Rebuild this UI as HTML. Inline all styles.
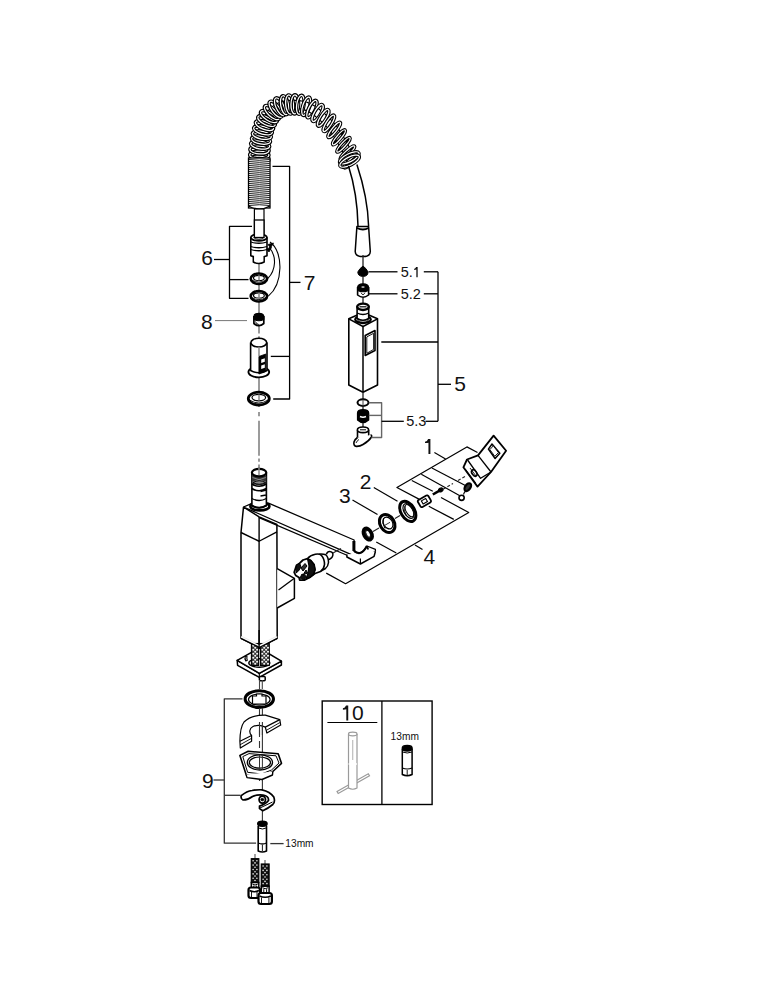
<!DOCTYPE html>
<html><head><meta charset="utf-8"><style>
html,body{margin:0;padding:0;background:#fff;width:769px;height:1000px;overflow:hidden}
svg{display:block}
text{font-family:"Liberation Sans",sans-serif}
</style></head><body>
<svg width="769" height="1000" viewBox="0 0 769 1000">
<rect width="769" height="1000" fill="#fff"/>
<path d="M263.25,160.09 L263.26,159.44 L263.27,158.65 L263.27,157.72 L263.28,156.70 L263.29,155.60 L263.31,154.47 L263.34,153.34 L263.38,152.25 L263.42,151.24 L263.49,150.34 L263.56,149.49 L263.65,148.67 L263.75,147.87 L263.87,147.08 L263.99,146.28 L264.12,145.47 L264.27,144.63 L264.42,143.77 L264.58,142.87 L264.74,141.93 L264.91,140.95 L265.08,139.94 L265.26,138.91 L265.44,137.88 L265.63,136.84 L265.82,135.81 L266.02,134.81 L266.23,133.84 L266.44,132.91 L266.66,132.03 L266.90,131.15 L267.14,130.31 L267.37,129.51 L267.61,128.75 L267.85,128.01 L268.11,127.28 L268.38,126.55 L268.69,125.81 L269.02,125.05 L269.40,124.24 L269.84,123.34 L270.30,122.41 L270.77,121.47 L271.27,120.53 L271.78,119.61 L272.30,118.72 L272.83,117.86 L273.38,117.07 L273.92,116.34 L274.47,115.68 L275.09,115.02 L275.74,114.36 L276.43,113.73 L277.14,113.12 L277.87,112.54 L278.62,112.00 L279.38,111.50 L280.14,111.03 L280.89,110.62 L281.63,110.25 L282.34,109.95 L283.09,109.69 L283.89,109.45 L284.73,109.25 L285.60,109.07 L286.51,108.92 L287.45,108.79 L288.40,108.68 L289.37,108.58 L290.34,108.49 L291.23,108.42 L292.15,108.37 L293.09,108.35 L294.03,108.36 L294.97,108.38 L295.91,108.42 L296.83,108.48 L297.73,108.56 L298.60,108.65 L299.44,108.76 L300.24,108.88 L300.99,109.01 L301.71,109.14 L302.39,109.30 L303.04,109.46 L303.69,109.65 L304.34,109.85 L304.99,110.09 L305.66,110.35 L306.36,110.65 L307.06,110.97 L307.77,111.33 L308.50,111.71 L309.23,112.13 L309.98,112.57 L310.73,113.05 L311.50,113.55 L312.28,114.08 L313.07,114.63 L313.87,115.21 L314.67,115.81 L315.49,116.46 L316.33,117.14 L317.19,117.85 L318.05,118.58 L318.91,119.34 L319.77,120.10 L320.61,120.87 L321.43,121.63 L322.24,122.39 L323.03,123.15 L323.80,123.90 L324.55,124.64 L325.29,125.38 L326.00,126.13 L326.70,126.87 L327.39,127.63 L328.05,128.39 L328.71,129.17 L329.34,129.96 L329.96,130.76 L330.55,131.58 L331.14,132.42 L331.72,133.29 L332.30,134.18 L332.88,135.10 L333.47,136.05 L334.08,137.04 L334.70,138.06 L335.35,139.11 L336.01,140.17 L336.68,141.26 L337.36,142.36 L338.04,143.47 L338.72,144.60 L339.39,145.73 L340.06,146.88 L340.71,148.02 L341.33,149.17 L341.94,150.32 L342.54,151.52 L343.18,152.86 L343.84,154.28 L344.49,155.74 L345.13,157.19 L345.74,158.59 L346.30,159.90 L346.81,161.08 L347.25,162.09" stroke="#000" stroke-width="1.2" fill="none" stroke-linejoin="round" />
<path d="M255.25,159.91 L255.26,159.36 L255.27,158.59 L255.27,157.67 L255.28,156.62 L255.29,155.49 L255.31,154.31 L255.34,153.10 L255.38,151.91 L255.44,150.75 L255.51,149.66 L255.61,148.67 L255.71,147.71 L255.83,146.79 L255.96,145.89 L256.09,145.00 L256.24,144.13 L256.39,143.26 L256.54,142.38 L256.70,141.49 L256.86,140.57 L257.02,139.61 L257.20,138.60 L257.38,137.55 L257.56,136.47 L257.76,135.38 L257.97,134.28 L258.19,133.18 L258.42,132.08 L258.67,131.01 L258.94,129.97 L259.19,129.02 L259.45,128.10 L259.71,127.19 L259.99,126.29 L260.29,125.40 L260.61,124.49 L260.96,123.58 L261.34,122.66 L261.75,121.71 L262.20,120.76 L262.66,119.82 L263.15,118.82 L263.67,117.78 L264.24,116.71 L264.84,115.63 L265.48,114.53 L266.16,113.44 L266.90,112.37 L267.69,111.32 L268.53,110.32 L269.37,109.42 L270.25,108.54 L271.16,107.70 L272.11,106.90 L273.09,106.13 L274.10,105.40 L275.13,104.72 L276.18,104.08 L277.26,103.49 L278.37,102.95 L279.54,102.46 L280.72,102.05 L281.89,101.71 L283.06,101.42 L284.21,101.19 L285.34,101.00 L286.46,100.85 L287.55,100.72 L288.61,100.61 L289.66,100.51 L290.78,100.43 L291.91,100.38 L293.04,100.35 L294.17,100.36 L295.28,100.38 L296.38,100.44 L297.47,100.51 L298.53,100.60 L299.56,100.71 L300.56,100.84 L301.52,100.98 L302.45,101.14 L303.37,101.32 L304.28,101.52 L305.17,101.75 L306.06,102.01 L306.95,102.29 L307.84,102.61 L308.73,102.96 L309.64,103.35 L310.56,103.78 L311.48,104.23 L312.38,104.72 L313.28,105.23 L314.18,105.77 L315.07,106.33 L315.96,106.91 L316.85,107.51 L317.74,108.14 L318.63,108.79 L319.55,109.48 L320.49,110.21 L321.42,110.96 L322.36,111.74 L323.29,112.54 L324.22,113.35 L325.14,114.17 L326.03,114.99 L326.91,115.80 L327.76,116.61 L328.59,117.40 L329.40,118.19 L330.21,118.99 L331.01,119.80 L331.81,120.62 L332.60,121.46 L333.38,122.32 L334.15,123.20 L334.91,124.11 L335.66,125.04 L336.39,126.00 L337.09,126.97 L337.76,127.93 L338.41,128.91 L339.05,129.88 L339.67,130.87 L340.28,131.86 L340.90,132.86 L341.52,133.87 L342.15,134.89 L342.81,135.95 L343.49,137.05 L344.18,138.17 L344.88,139.32 L345.59,140.50 L346.30,141.70 L347.01,142.91 L347.71,144.15 L348.39,145.41 L349.06,146.68 L349.74,148.04 L350.43,149.48 L351.12,150.98 L351.80,152.50 L352.46,153.99 L353.08,155.42 L353.65,156.74 L354.16,157.91 L354.58,158.88" stroke="#000" stroke-width="1.2" fill="none" stroke-linejoin="round" />
<ellipse cx="259.25" cy="160.00" rx="3.90" ry="9.6" transform="rotate(-88.8 259.25 160.00)" stroke="#000" stroke-width="3.5" fill="none"/>
<ellipse cx="259.25" cy="160.00" rx="3.90" ry="9.6" transform="rotate(-88.8 259.25 160.00)" stroke="#fff" stroke-width="1.25" fill="none"/>
<ellipse cx="259.30" cy="155.00" rx="3.90" ry="9.6" transform="rotate(-89.1 259.30 155.00)" stroke="#000" stroke-width="3.5" fill="none"/>
<ellipse cx="259.30" cy="155.00" rx="3.90" ry="9.6" transform="rotate(-89.1 259.30 155.00)" stroke="#fff" stroke-width="1.25" fill="none"/>
<ellipse cx="259.50" cy="150.01" rx="3.90" ry="9.6" transform="rotate(-85.6 259.50 150.01)" stroke="#000" stroke-width="3.5" fill="none"/>
<ellipse cx="259.50" cy="150.01" rx="3.90" ry="9.6" transform="rotate(-85.6 259.50 150.01)" stroke="#fff" stroke-width="1.25" fill="none"/>
<ellipse cx="260.14" cy="145.05" rx="3.90" ry="9.6" transform="rotate(-80.5 260.14 145.05)" stroke="#000" stroke-width="3.5" fill="none"/>
<ellipse cx="260.14" cy="145.05" rx="3.90" ry="9.6" transform="rotate(-80.5 260.14 145.05)" stroke="#fff" stroke-width="1.25" fill="none"/>
<ellipse cx="260.99" cy="140.12" rx="3.90" ry="9.6" transform="rotate(-80.3 260.99 140.12)" stroke="#000" stroke-width="3.5" fill="none"/>
<ellipse cx="260.99" cy="140.12" rx="3.90" ry="9.6" transform="rotate(-80.3 260.99 140.12)" stroke="#fff" stroke-width="1.25" fill="none"/>
<ellipse cx="261.87" cy="135.20" rx="3.90" ry="9.6" transform="rotate(-79.1 261.87 135.20)" stroke="#000" stroke-width="3.5" fill="none"/>
<ellipse cx="261.87" cy="135.20" rx="3.90" ry="9.6" transform="rotate(-79.1 261.87 135.20)" stroke="#fff" stroke-width="1.25" fill="none"/>
<ellipse cx="262.98" cy="130.33" rx="3.90" ry="9.6" transform="rotate(-74.8 262.98 130.33)" stroke="#000" stroke-width="3.5" fill="none"/>
<ellipse cx="262.98" cy="130.33" rx="3.90" ry="9.6" transform="rotate(-74.8 262.98 130.33)" stroke="#fff" stroke-width="1.25" fill="none"/>
<ellipse cx="264.48" cy="125.56" rx="3.90" ry="9.6" transform="rotate(-69.1 264.48 125.56)" stroke="#000" stroke-width="3.5" fill="none"/>
<ellipse cx="264.48" cy="125.56" rx="3.90" ry="9.6" transform="rotate(-69.1 264.48 125.56)" stroke="#fff" stroke-width="1.25" fill="none"/>
<ellipse cx="266.53" cy="121.00" rx="3.90" ry="9.6" transform="rotate(-63.8 266.53 121.00)" stroke="#000" stroke-width="3.5" fill="none"/>
<ellipse cx="266.53" cy="121.00" rx="3.90" ry="9.6" transform="rotate(-63.8 266.53 121.00)" stroke="#fff" stroke-width="1.25" fill="none"/>
<ellipse cx="268.90" cy="116.60" rx="3.90" ry="9.6" transform="rotate(-58.5 268.90 116.60)" stroke="#000" stroke-width="3.5" fill="none"/>
<ellipse cx="268.90" cy="116.60" rx="3.90" ry="9.6" transform="rotate(-58.5 268.90 116.60)" stroke="#fff" stroke-width="1.25" fill="none"/>
<ellipse cx="271.87" cy="112.59" rx="3.90" ry="9.6" transform="rotate(-47.1 271.87 112.59)" stroke="#000" stroke-width="3.5" fill="none"/>
<ellipse cx="271.87" cy="112.59" rx="3.90" ry="9.6" transform="rotate(-47.1 271.87 112.59)" stroke="#fff" stroke-width="1.25" fill="none"/>
<ellipse cx="275.59" cy="109.26" rx="3.90" ry="9.6" transform="rotate(-36.7 275.59 109.26)" stroke="#000" stroke-width="3.5" fill="none"/>
<ellipse cx="275.59" cy="109.26" rx="3.90" ry="9.6" transform="rotate(-36.7 275.59 109.26)" stroke="#fff" stroke-width="1.25" fill="none"/>
<ellipse cx="279.86" cy="106.67" rx="3.90" ry="9.6" transform="rotate(-25.2 279.86 106.67)" stroke="#000" stroke-width="3.5" fill="none"/>
<ellipse cx="279.86" cy="106.67" rx="3.90" ry="9.6" transform="rotate(-25.2 279.86 106.67)" stroke="#fff" stroke-width="1.25" fill="none"/>
<ellipse cx="284.62" cy="105.19" rx="3.90" ry="9.6" transform="rotate(-10.7 284.62 105.19)" stroke="#000" stroke-width="3.5" fill="none"/>
<ellipse cx="284.62" cy="105.19" rx="3.90" ry="9.6" transform="rotate(-10.7 284.62 105.19)" stroke="#fff" stroke-width="1.25" fill="none"/>
<ellipse cx="289.58" cy="104.54" rx="3.90" ry="9.6" transform="rotate(-5.3 289.58 104.54)" stroke="#000" stroke-width="3.5" fill="none"/>
<ellipse cx="289.58" cy="104.54" rx="3.90" ry="9.6" transform="rotate(-5.3 289.58 104.54)" stroke="#fff" stroke-width="1.25" fill="none"/>
<ellipse cx="294.78" cy="104.37" rx="3.81" ry="9.6" transform="rotate(1.4 294.78 104.37)" stroke="#000" stroke-width="3.5" fill="none"/>
<ellipse cx="294.78" cy="104.37" rx="3.81" ry="9.6" transform="rotate(1.4 294.78 104.37)" stroke="#fff" stroke-width="1.25" fill="none"/>
<ellipse cx="300.35" cy="104.85" rx="3.65" ry="9.6" transform="rotate(8.1 300.35 104.85)" stroke="#000" stroke-width="3.5" fill="none"/>
<ellipse cx="300.35" cy="104.85" rx="3.65" ry="9.6" transform="rotate(8.1 300.35 104.85)" stroke="#fff" stroke-width="1.25" fill="none"/>
<ellipse cx="306.16" cy="106.26" rx="3.48" ry="9.6" transform="rotate(17.7 306.16 106.26)" stroke="#000" stroke-width="3.5" fill="none"/>
<ellipse cx="306.16" cy="106.26" rx="3.48" ry="9.6" transform="rotate(17.7 306.16 106.26)" stroke="#fff" stroke-width="1.25" fill="none"/>
<ellipse cx="311.92" cy="109.07" rx="3.30" ry="9.6" transform="rotate(26.3 311.92 109.07)" stroke="#000" stroke-width="3.5" fill="none"/>
<ellipse cx="311.92" cy="109.07" rx="3.30" ry="9.6" transform="rotate(26.3 311.92 109.07)" stroke="#fff" stroke-width="1.25" fill="none"/>
<ellipse cx="317.57" cy="113.00" rx="3.10" ry="9.6" transform="rotate(30.4 317.57 113.00)" stroke="#000" stroke-width="3.5" fill="none"/>
<ellipse cx="317.57" cy="113.00" rx="3.10" ry="9.6" transform="rotate(30.4 317.57 113.00)" stroke="#fff" stroke-width="1.25" fill="none"/>
<ellipse cx="323.18" cy="117.80" rx="2.90" ry="9.6" transform="rotate(32.1 323.18 117.80)" stroke="#000" stroke-width="3.5" fill="none"/>
<ellipse cx="323.18" cy="117.80" rx="2.90" ry="9.6" transform="rotate(32.1 323.18 117.80)" stroke="#fff" stroke-width="1.25" fill="none"/>
<ellipse cx="328.85" cy="123.32" rx="2.67" ry="9.6" transform="rotate(32.9 328.85 123.32)" stroke="#000" stroke-width="3.5" fill="none"/>
<ellipse cx="328.85" cy="123.32" rx="2.67" ry="9.6" transform="rotate(32.9 328.85 123.32)" stroke="#fff" stroke-width="1.25" fill="none"/>
<ellipse cx="334.24" cy="129.87" rx="2.43" ry="9.6" transform="rotate(38.6 334.24 129.87)" stroke="#000" stroke-width="3.5" fill="none"/>
<ellipse cx="334.24" cy="129.87" rx="2.43" ry="9.6" transform="rotate(38.6 334.24 129.87)" stroke="#fff" stroke-width="1.25" fill="none"/>
<ellipse cx="338.94" cy="137.31" rx="2.19" ry="9.6" transform="rotate(40.2 338.94 137.31)" stroke="#000" stroke-width="3.5" fill="none"/>
<ellipse cx="338.94" cy="137.31" rx="2.19" ry="9.6" transform="rotate(40.2 338.94 137.31)" stroke="#fff" stroke-width="1.25" fill="none"/>
<ellipse cx="343.50" cy="144.83" rx="2.10" ry="9.6" transform="rotate(42.1 343.50 144.83)" stroke="#000" stroke-width="3.5" fill="none"/>
<ellipse cx="343.50" cy="144.83" rx="2.10" ry="9.6" transform="rotate(42.1 343.50 144.83)" stroke="#fff" stroke-width="1.25" fill="none"/>
<ellipse cx="347.49" cy="152.67" rx="2.10" ry="9.6" transform="rotate(47.6 347.49 152.67)" stroke="#000" stroke-width="3.5" fill="none"/>
<ellipse cx="347.49" cy="152.67" rx="2.10" ry="9.6" transform="rotate(47.6 347.49 152.67)" stroke="#fff" stroke-width="1.25" fill="none"/>
<ellipse cx="351.25" cy="161.25" rx="2.10" ry="9.6" transform="rotate(47.9 351.25 161.25)" stroke="#000" stroke-width="3.5" fill="none"/>
<ellipse cx="351.25" cy="161.25" rx="2.10" ry="9.6" transform="rotate(47.9 351.25 161.25)" stroke="#fff" stroke-width="1.25" fill="none"/>
<ellipse cx="349.30" cy="157.80" rx="10.80" ry="4.00" stroke="#000" stroke-width="3.3" fill="none" transform="rotate(-27 349.30 157.80)" />
<ellipse cx="349.30" cy="157.80" rx="10.80" ry="4.00" stroke="#fff" stroke-width="1.2" fill="none" transform="rotate(-27 349.30 157.80)" />
<ellipse cx="349.60" cy="161.20" rx="10.80" ry="4.00" stroke="#000" stroke-width="3.3" fill="none" transform="rotate(-27 349.60 161.20)" />
<ellipse cx="349.60" cy="161.20" rx="10.80" ry="4.00" stroke="#fff" stroke-width="1.2" fill="none" transform="rotate(-27 349.60 161.20)" />
<rect x="248.5" y="158" width="21.5" height="50" fill="#fff" stroke="#000" stroke-width="1.3"/>
<path d="M248.8,159.50 Q259.25,161.10 269.7,159.50" stroke="#000" stroke-width="0.9" fill="none"/>
<path d="M248.8,161.50 Q259.25,163.10 269.7,161.50" stroke="#000" stroke-width="0.9" fill="none"/>
<path d="M248.8,163.50 Q259.25,165.10 269.7,163.50" stroke="#000" stroke-width="0.9" fill="none"/>
<path d="M248.8,165.50 Q259.25,167.10 269.7,165.50" stroke="#000" stroke-width="0.9" fill="none"/>
<path d="M248.8,167.50 Q259.25,169.10 269.7,167.50" stroke="#000" stroke-width="0.9" fill="none"/>
<path d="M248.8,169.50 Q259.25,171.10 269.7,169.50" stroke="#000" stroke-width="0.9" fill="none"/>
<path d="M248.8,171.50 Q259.25,173.10 269.7,171.50" stroke="#000" stroke-width="0.9" fill="none"/>
<path d="M248.8,173.50 Q259.25,175.10 269.7,173.50" stroke="#000" stroke-width="0.9" fill="none"/>
<path d="M248.8,175.50 Q259.25,177.10 269.7,175.50" stroke="#000" stroke-width="0.9" fill="none"/>
<path d="M248.8,177.50 Q259.25,179.10 269.7,177.50" stroke="#000" stroke-width="0.9" fill="none"/>
<path d="M248.8,179.50 Q259.25,181.10 269.7,179.50" stroke="#000" stroke-width="0.9" fill="none"/>
<path d="M248.8,181.50 Q259.25,183.10 269.7,181.50" stroke="#000" stroke-width="0.9" fill="none"/>
<path d="M248.8,183.50 Q259.25,185.10 269.7,183.50" stroke="#000" stroke-width="0.9" fill="none"/>
<path d="M248.8,185.50 Q259.25,187.10 269.7,185.50" stroke="#000" stroke-width="0.9" fill="none"/>
<path d="M248.8,187.50 Q259.25,189.10 269.7,187.50" stroke="#000" stroke-width="0.9" fill="none"/>
<path d="M248.8,189.50 Q259.25,191.10 269.7,189.50" stroke="#000" stroke-width="0.9" fill="none"/>
<path d="M248.8,191.50 Q259.25,193.10 269.7,191.50" stroke="#000" stroke-width="0.9" fill="none"/>
<path d="M248.8,193.50 Q259.25,195.10 269.7,193.50" stroke="#000" stroke-width="0.9" fill="none"/>
<path d="M248.8,195.50 Q259.25,197.10 269.7,195.50" stroke="#000" stroke-width="0.9" fill="none"/>
<path d="M248.8,197.50 Q259.25,199.10 269.7,197.50" stroke="#000" stroke-width="0.9" fill="none"/>
<path d="M248.8,199.50 Q259.25,201.10 269.7,199.50" stroke="#000" stroke-width="0.9" fill="none"/>
<path d="M248.8,201.50 Q259.25,203.10 269.7,201.50" stroke="#000" stroke-width="0.9" fill="none"/>
<path d="M248.8,203.50 Q259.25,205.10 269.7,203.50" stroke="#000" stroke-width="0.9" fill="none"/>
<path d="M248.8,205.50 Q259.25,207.10 269.7,205.50" stroke="#000" stroke-width="0.9" fill="none"/>
<path d="M248.5,206 Q259.25,212 270,206" stroke="#000" stroke-width="1.3" fill="#fff" stroke-linejoin="round" />
<rect x="254.4" y="209" width="9.6" height="30" fill="#fff" stroke="#000" stroke-width="1.2"/>
<path d="M348.5,166 C353,180 357.5,200 358,226" stroke="#000" stroke-width="1.5" fill="none" stroke-linejoin="round" />
<path d="M356.9,164.5 C362,180 368,205 368.6,226" stroke="#000" stroke-width="1.5" fill="none" stroke-linejoin="round" />
<path d="M356.9,226.5 L368.6,226.5 L370.3,251.5 Q370.3,256.6 363,256.6 Q355.2,256.6 355.2,251.5 Z" stroke="#000" stroke-width="1.5" fill="#fff" stroke-linejoin="round" />
<path d="M356.9,228 Q363,231 368.6,228" stroke="#000" stroke-width="1.8" fill="none" stroke-linejoin="round" />
<line x1="259.00" y1="263.00" x2="259.00" y2="333.60" stroke="#8a8a8a" stroke-width="1.7" />
<line x1="259.00" y1="336.30" x2="259.00" y2="407.00" stroke="#8a8a8a" stroke-width="1.7" />
<line x1="259.00" y1="412.00" x2="259.00" y2="416.20" stroke="#8a8a8a" stroke-width="1.7" />
<line x1="259.00" y1="420.80" x2="259.00" y2="455.80" stroke="#8a8a8a" stroke-width="1.7" />
<line x1="259.00" y1="458.60" x2="259.00" y2="461.70" stroke="#8a8a8a" stroke-width="1.7" />
<line x1="259.00" y1="464.50" x2="259.00" y2="472.00" stroke="#8a8a8a" stroke-width="1.7" />
<path d="M250.8,237.5 L250.8,255.8 Q258.9,259 267,255.8 L267,237.5" stroke="#000" stroke-width="1.6" fill="#fff" stroke-linejoin="round" />
<ellipse cx="258.90" cy="237.50" rx="8.10" ry="3.30" stroke="#000" stroke-width="1.8" fill="#fff" transform="rotate(0 258.90 237.50)" />
<ellipse cx="258.90" cy="237.50" rx="4.80" ry="1.80" stroke="#000" stroke-width="1.0" fill="none" transform="rotate(0 258.90 237.50)" />
<path d="M250.8,242 Q258.9,244.5 267,242" stroke="#000" stroke-width="1.3" fill="none" stroke-linejoin="round" />
<path d="M250.8,246.5 Q258.9,249.0 267,246.5" stroke="#000" stroke-width="1.3" fill="none" stroke-linejoin="round" />
<path d="M250.8,249.5 Q258.9,252.0 267,249.5" stroke="#000" stroke-width="1.3" fill="none" stroke-linejoin="round" />
<path d="M253.3,256 L253.3,262 Q258.8,265 264.2,262 L264.2,256" stroke="#000" stroke-width="1.5" fill="#fff" stroke-linejoin="round" />
<rect x="254.4" y="220" width="9.6" height="17.5" fill="#fff" stroke="#000" stroke-width="1.3"/>
<ellipse cx="258.90" cy="278.75" rx="8.20" ry="5.20" stroke="#000" stroke-width="2.6" fill="#fff" transform="rotate(0 258.90 278.75)" />
<ellipse cx="258.90" cy="277.95" rx="5.40" ry="2.60" stroke="#000" stroke-width="1.1" fill="none" transform="rotate(0 258.90 277.95)" />
<path d="M251.5,279.95 Q258.9,284.25 266.3,279.95" stroke="#000" stroke-width="0.9" fill="none" stroke-linejoin="round" />
<line x1="259.00" y1="275.35" x2="259.00" y2="280.55" stroke="#8a8a8a" stroke-width="1.5" />
<ellipse cx="258.90" cy="296.25" rx="8.20" ry="5.20" stroke="#000" stroke-width="2.6" fill="#fff" transform="rotate(0 258.90 296.25)" />
<ellipse cx="258.90" cy="295.45" rx="5.40" ry="2.60" stroke="#000" stroke-width="1.1" fill="none" transform="rotate(0 258.90 295.45)" />
<path d="M251.5,297.45 Q258.9,301.75 266.3,297.45" stroke="#000" stroke-width="0.9" fill="none" stroke-linejoin="round" />
<line x1="259.00" y1="292.85" x2="259.00" y2="298.05" stroke="#8a8a8a" stroke-width="1.5" />
<path d="M267.9,278.3 C276,270 277,256 269,247" stroke="#000" stroke-width="1.1" fill="none" stroke-linejoin="round" />
<path d="M268.3,296.2 C283,284 284,252 270,242" stroke="#000" stroke-width="1.1" fill="none" stroke-linejoin="round" />
<path d="M268,244.5 L273.5,243 L270.5,248 Z" stroke="#000" stroke-width="0.8" fill="#000" stroke-linejoin="round" />
<path d="M266.5,249 L271.5,247.5 L269,252 Z" stroke="#000" stroke-width="0.8" fill="#000" stroke-linejoin="round" />
<path d="M252.00,226.30 L229.50,226.30 L229.50,298.30 L248.50,298.30" stroke="#000" stroke-width="1.3" fill="none" stroke-linejoin="round" />
<line x1="229.50" y1="279.60" x2="248.50" y2="279.60" stroke="#000" stroke-width="1.3" />
<line x1="214.00" y1="259.50" x2="229.50" y2="259.50" stroke="#000" stroke-width="1.3" />
<text x="201.2" y="265.2" font-size="21.0" text-anchor="start" fill="#111" >6</text>
<path d="M253.9,316 L253.9,323.5 Q258.8,327.8 263.8,323.5 L263.8,316" stroke="#000" stroke-width="1.7" fill="#fff" stroke-linejoin="round" />
<path d="M253.9,316.5 Q253.9,313.3 258.8,313.3 Q263.8,313.3 263.8,316.5 L263.8,319.5 Q258.8,322 253.9,319.5 Z" stroke="#000" stroke-width="1.2" fill="#000" stroke-linejoin="round" />
<path d="M255.5,321.5 Q256,324 258.8,324.5" stroke="#000" stroke-width="0.9" fill="none" stroke-linejoin="round" />
<line x1="215.00" y1="320.60" x2="247.00" y2="320.60" stroke="#777" stroke-width="1.0" />
<text x="201.05" y="328.6" font-size="21.0" text-anchor="start" fill="#111" >8</text>
<ellipse cx="258.80" cy="372.00" rx="10.40" ry="5.40" stroke="#000" stroke-width="1.8" fill="#fff" transform="rotate(0 258.80 372.00)" />
<path d="M250.6,342.6 L250.6,370.5 Q258.8,375 267,370.5 L267,342.6" stroke="#000" stroke-width="1.6" fill="#fff" stroke-linejoin="round" />
<ellipse cx="258.80" cy="342.60" rx="7.90" ry="4.40" stroke="#000" stroke-width="1.6" fill="#fff" transform="rotate(0 258.80 342.60)" />
<line x1="259.00" y1="347.00" x2="259.00" y2="356.00" stroke="#8a8a8a" stroke-width="1.5" />
<path d="M258.9,356.5 L265.8,354 L265.8,371.5 L258.9,374 Z" stroke="#000" stroke-width="0.8" fill="#000" stroke-linejoin="round" />
<path d="M261.2,359.5 L264.8,358.3 L264.8,361.8 L261.2,363 Z" stroke="#000" stroke-width="0" fill="#fff" stroke-linejoin="round" />
<path d="M261.2,365.5 L264.8,364.3 L264.8,367.8 L261.2,369 Z" stroke="#000" stroke-width="0" fill="#fff" stroke-linejoin="round" />
<ellipse cx="258.80" cy="398.60" rx="10.50" ry="6.40" stroke="#000" stroke-width="2.8" fill="#fff" transform="rotate(0 258.80 398.60)" />
<ellipse cx="258.80" cy="397.60" rx="6.80" ry="3.20" stroke="#000" stroke-width="1.2" fill="none" transform="rotate(0 258.80 397.60)" />
<path d="M249.5,400 Q258.8,406 268.1,400" stroke="#000" stroke-width="0.9" fill="none" stroke-linejoin="round" />
<line x1="259.00" y1="394.50" x2="259.00" y2="400.60" stroke="#8a8a8a" stroke-width="1.5" />
<path d="M272.50,166.30 L289.60,166.30 L289.60,399.00 L273.20,399.00" stroke="#000" stroke-width="1.3" fill="none" stroke-linejoin="round" />
<line x1="270.80" y1="356.40" x2="289.60" y2="356.40" stroke="#000" stroke-width="1.3" />
<line x1="289.60" y1="282.40" x2="300.50" y2="282.40" stroke="#000" stroke-width="1.3" />
<text x="303.65" y="290.4" font-size="21.0" text-anchor="start" fill="#111" >7</text>
<line x1="363.00" y1="255.00" x2="363.00" y2="266.00" stroke="#222" stroke-width="1.3" />
<path d="M363,266 Q366.5,268.5 368,272 Q368,276.4 363,276.4 Q358,276.4 357.8,272 Q359.5,268.5 363,266 Z" stroke="#000" stroke-width="1" fill="#000" stroke-linejoin="round" />
<line x1="363.00" y1="276.00" x2="363.00" y2="285.00" stroke="#222" stroke-width="1.3" />
<line x1="368.50" y1="271.80" x2="397.50" y2="271.80" stroke="#000" stroke-width="1.3" />
<text x="400.7" y="277.2" font-size="14.5" text-anchor="start" fill="#111" >5.</text>
<path d="M417.67,267.00 L417.67,277.20 L416.35,277.20 L416.35,269.55 Q415.84,269.75 414.00,269.81 L414.00,268.89 Q415.53,268.73 416.14,267.00 Z" fill="#111"/>
<line x1="423.80" y1="271.80" x2="438.00" y2="271.80" stroke="#000" stroke-width="1.3" />
<path d="M357.6,287 L357.6,295 Q363,299.5 368.6,295 L368.6,287" stroke="#000" stroke-width="1.6" fill="#fff" stroke-linejoin="round" />
<path d="M357.6,287.5 Q357.6,284 363,283.8 Q368.6,284 368.6,287.5 L368.6,290.5 Q363,293 357.6,290.5 Z" stroke="#000" stroke-width="1.2" fill="#000" stroke-linejoin="round" />
<rect x="361.6" y="286.3" width="2.8" height="1.5" fill="#ccc"/>
<path d="M361,292.5 Q363,297 365,292.5" stroke="#000" stroke-width="0.8" fill="none" stroke-linejoin="round" />
<line x1="363.00" y1="298.00" x2="363.00" y2="303.00" stroke="#222" stroke-width="1.3" />
<line x1="369.00" y1="293.80" x2="397.50" y2="293.80" stroke="#000" stroke-width="1.3" />
<text x="400.7" y="299.1" font-size="14.5" text-anchor="start" fill="#111" >5.2</text>
<line x1="423.80" y1="293.80" x2="438.00" y2="293.80" stroke="#000" stroke-width="1.3" />
<line x1="438.00" y1="271.80" x2="438.00" y2="421.30" stroke="#000" stroke-width="1.3" />
<path d="M348.80,318.80 L363.00,312.50 L377.50,318.80 L377.50,385.00 L363.00,392.20 L348.80,385.00 Z" stroke="#000" stroke-width="1.6" fill="#fff" stroke-linejoin="round" />
<path d="M348.80,318.80 L363.00,326.50 L377.50,318.80" stroke="#000" stroke-width="1.5" fill="none" stroke-linejoin="round" />
<line x1="363.00" y1="326.50" x2="363.00" y2="392.20" stroke="#000" stroke-width="1.5" />
<ellipse cx="363.00" cy="319.50" rx="7.80" ry="3.60" stroke="#000" stroke-width="2.2" fill="#fff" transform="rotate(0 363.00 319.50)" />
<ellipse cx="363.00" cy="320.00" rx="5.20" ry="2.20" stroke="#000" stroke-width="1.0" fill="none" transform="rotate(0 363.00 320.00)" />
<path d="M357.1,306.5 L357.1,318.5 Q363,322 368.7,318.5 L368.7,306.5" stroke="#000" stroke-width="1.6" fill="#fff" stroke-linejoin="round" />
<path d="M357.1,313 Q363,316 368.7,313" stroke="#000" stroke-width="1.3" fill="none" stroke-linejoin="round" />
<ellipse cx="363.00" cy="306.80" rx="5.80" ry="3.20" stroke="#000" stroke-width="2.4" fill="#fff" transform="rotate(0 363.00 306.80)" />
<path d="M359.5,306.8 L366.5,306.8" stroke="#000" stroke-width="1.2" fill="none" stroke-linejoin="round" />
<path d="M365.20,335.50 L375.00,330.50 L375.00,350.50 L365.20,355.50 Z" stroke="#000" stroke-width="1.6" fill="#fff" stroke-linejoin="round" />
<path d="M366.80,336.90 L373.60,333.30 L373.60,349.40 L366.80,353.30 Z" stroke="#000" stroke-width="0.9" fill="#fff" stroke-linejoin="round" />
<line x1="381.30" y1="342.00" x2="438.00" y2="342.00" stroke="#000" stroke-width="1.3" />
<line x1="438.00" y1="384.30" x2="451.00" y2="384.30" stroke="#000" stroke-width="1.3" />
<text x="454.25" y="390.6" font-size="21.0" text-anchor="start" fill="#111" >5</text>
<line x1="363.00" y1="392.00" x2="363.00" y2="400.00" stroke="#222" stroke-width="1.3" />
<ellipse cx="363.00" cy="402.60" rx="5.50" ry="3.30" stroke="#000" stroke-width="2.0" fill="#fff" transform="rotate(0 363.00 402.60)" />
<line x1="363.00" y1="399.50" x2="363.00" y2="406.00" stroke="#444" stroke-width="1.0" />
<line x1="363.00" y1="406.00" x2="363.00" y2="410.00" stroke="#222" stroke-width="1.3" />
<path d="M357.6,413 L357.6,420 Q363,425 368.6,420 L368.6,413 Q368.6,409.8 363,409.8 Q357.6,409.8 357.6,413 Z" stroke="#000" stroke-width="1.4" fill="#000" stroke-linejoin="round" />
<path d="M360,416.5 Q363,418 366,416.5" stroke="#fff" stroke-width="1.4" fill="none" stroke-linejoin="round" />
<line x1="363.00" y1="423.00" x2="363.00" y2="427.00" stroke="#222" stroke-width="1.3" />
<path d="M357.5,430 L357.5,437.5 Q363,441 368.7,437.5 L368.7,430" stroke="#000" stroke-width="1.6" fill="#fff" stroke-linejoin="round" />
<ellipse cx="363.00" cy="429.80" rx="5.60" ry="2.80" stroke="#000" stroke-width="1.6" fill="#fff" transform="rotate(0 363.00 429.80)" />
<path d="M360,429.8 L366,429.8" stroke="#000" stroke-width="1.0" fill="none" stroke-linejoin="round" />
<path d="M357.5,437.5 Q354.5,439.5 354,442 Q353.2,445.8 356.5,446.4 Q360,446.5 363,444.5 Q369,441 371.5,437 Q372,434.8 370.5,435" stroke="#000" stroke-width="1.6" fill="#fff" stroke-linejoin="round" />
<path d="M356,443 Q357.5,440 359,439.5" stroke="#000" stroke-width="0.9" fill="none" stroke-linejoin="round" />
<path d="M368.80,402.80 L381.60,402.80 L381.60,437.50 L371.50,437.50" stroke="#666" stroke-width="1.4" fill="none" stroke-linejoin="round" />
<line x1="368.80" y1="415.40" x2="381.60" y2="415.40" stroke="#666" stroke-width="1.4" />
<line x1="381.60" y1="421.30" x2="403.80" y2="421.30" stroke="#000" stroke-width="1.3" />
<text x="406.2" y="426.1" font-size="14.5" text-anchor="start" fill="#111" >5.3</text>
<line x1="425.50" y1="421.30" x2="438.00" y2="421.30" stroke="#000" stroke-width="1.3" />
<path d="M243.50,507.00 L241.00,532.50 L241.00,638.30 L259.30,647.50 L277.20,638.30 L276.90,524.40 L259.10,516.90 L243.50,507.00" stroke="#000" stroke-width="1.5" fill="#fff" stroke-linejoin="round" />
<path d="M241.00,532.50 L259.10,541.25 L276.90,531.90" stroke="#000" stroke-width="1.4" fill="none" stroke-linejoin="round" />
<line x1="259.10" y1="516.90" x2="259.10" y2="647.50" stroke="#000" stroke-width="1.4" />
<path d="M243.5,507 L251.5,503.6 L268.5,503.1 L354.1,540 L354.1,551.5 Q361,556.5 366.9,546 L375.4,549.4 L375.4,551.5 L360.4,558.6 L243.5,507 Z" stroke="#000" stroke-width="1.3" fill="#fff" stroke-linejoin="round" />
<path d="M259.1,517.6 L360.4,561" stroke="#000" stroke-width="1.2" fill="none" stroke-linejoin="round" />
<path d="M346.9,554.5 L346.9,557 L360.4,564 L374.1,556.3 L375.4,551.5" stroke="#000" stroke-width="1.5" fill="#fff" stroke-linejoin="round" />
<line x1="360.40" y1="558.60" x2="360.40" y2="564.00" stroke="#000" stroke-width="1.2" />
<path d="M353.9,541 L353.9,551" stroke="#000" stroke-width="3.0" fill="none" stroke-linejoin="round" />
<path d="M354.3,551 Q361,557 366.9,546" stroke="#000" stroke-width="2.2" fill="none" stroke-linejoin="round" />
<path d="M366.9,546 L368.2,549.5" stroke="#000" stroke-width="1.8" fill="none" stroke-linejoin="round" />
<ellipse cx="259.90" cy="506.40" rx="9.50" ry="4.00" stroke="#000" stroke-width="2.6" fill="#fff" transform="rotate(0 259.90 506.40)" />
<path d="M251.9,473 L251.9,505.5 Q259.3,510 266.4,505.5 L266.4,473" stroke="#000" stroke-width="1.6" fill="#fff" stroke-linejoin="round" />
<path d="M251.9,505.5 Q259.3,510 266.4,505.5" stroke="#000" stroke-width="2.0" fill="none" stroke-linejoin="round" />
<path d="M251.9,476 L266.4,476 L266.4,483.5 Q259.2,487 251.9,483.5 Z" fill="#333"/>
<path d="M252.5,477.5 L265.8,482 M252.5,482 L265.8,477.5" stroke="#999" stroke-width="0.8" fill="none" stroke-linejoin="round" />
<path d="M253,482.5 Q259.2,479 265.5,482.5 Q259.2,486 253,482.5 Z" stroke="#000" stroke-width="0.9" fill="#888" stroke-linejoin="round" />
<ellipse cx="259.10" cy="472.60" rx="7.20" ry="3.80" stroke="#000" stroke-width="2.2" fill="#fff" transform="rotate(0 259.10 472.60)" />
<line x1="259.00" y1="468.00" x2="259.00" y2="475.00" stroke="#8a8a8a" stroke-width="1.5" />
<path d="M251.9,484 Q259.2,488.5 266.4,484" stroke="#000" stroke-width="1.5" fill="none" stroke-linejoin="round" />
<path d="M251.9,488.5 Q259.2,493 266.4,488.5" stroke="#000" stroke-width="1.6" fill="none" stroke-linejoin="round" />
<path d="M251.9,498.5 Q259.2,502.5 266.4,498.5" stroke="#000" stroke-width="1.4" fill="none" stroke-linejoin="round" />
<path d="M260.50,491.50 L266.20,490.00 L266.20,495.00 L260.50,496.00" stroke="#000" stroke-width="1.3" fill="#fff" stroke-linejoin="round" />
<path d="M277.20,568.70 L294.40,578.30 L294.40,598.30 L277.20,608.00" stroke="#000" stroke-width="1.5" fill="#fff" stroke-linejoin="round" />
<line x1="278.50" y1="590.00" x2="294.40" y2="578.30" stroke="#000" stroke-width="1.3" />
<path d="M237.2,660.4 L237.6,665.4 L259.3,677.4 L281.4,665 L281.4,661.2 L259.3,673.3 Z" stroke="#000" stroke-width="1.5" fill="#fff" stroke-linejoin="round" />
<path d="M237.20,660.40 L259.30,648.00 L281.40,661.20 L259.30,673.30 Z" stroke="#000" stroke-width="1.5" fill="#fff" stroke-linejoin="round" />
<line x1="259.30" y1="673.30" x2="259.30" y2="677.40" stroke="#000" stroke-width="1.2" />
<ellipse cx="259.30" cy="663.00" rx="10.50" ry="4.20" stroke="#000" stroke-width="1.4" fill="#fff" transform="rotate(0 259.30 663.00)" />
<path d="M245.5,656 Q244.3,658.5 245.8,661 L247.3,660.3 Q246.5,658.2 247,656.5 Z" stroke="#000" stroke-width="1.1" fill="#fff" stroke-linejoin="round" />
<rect x="251.4" y="643.5" width="7.200000000000017" height="22.0" fill="#333" stroke="#000" stroke-width="1.1"/>
<circle cx="253.30" cy="645.70" r="1.05" fill="#f4f4f4"/>
<circle cx="257.10" cy="645.70" r="1.05" fill="#f4f4f4"/>
<circle cx="255.20" cy="647.70" r="1.05" fill="#f4f4f4"/>
<circle cx="253.30" cy="649.70" r="1.05" fill="#f4f4f4"/>
<circle cx="257.10" cy="649.70" r="1.05" fill="#f4f4f4"/>
<circle cx="255.20" cy="651.70" r="1.05" fill="#f4f4f4"/>
<circle cx="253.30" cy="653.70" r="1.05" fill="#f4f4f4"/>
<circle cx="257.10" cy="653.70" r="1.05" fill="#f4f4f4"/>
<circle cx="255.20" cy="655.70" r="1.05" fill="#f4f4f4"/>
<circle cx="253.30" cy="657.70" r="1.05" fill="#f4f4f4"/>
<circle cx="257.10" cy="657.70" r="1.05" fill="#f4f4f4"/>
<circle cx="255.20" cy="659.70" r="1.05" fill="#f4f4f4"/>
<circle cx="253.30" cy="661.70" r="1.05" fill="#f4f4f4"/>
<circle cx="257.10" cy="661.70" r="1.05" fill="#f4f4f4"/>
<circle cx="255.20" cy="663.70" r="1.05" fill="#f4f4f4"/>
<rect x="260.4" y="643.5" width="8.900000000000034" height="22.0" fill="#333" stroke="#000" stroke-width="1.1"/>
<circle cx="262.30" cy="645.70" r="1.05" fill="#f4f4f4"/>
<circle cx="266.10" cy="645.70" r="1.05" fill="#f4f4f4"/>
<circle cx="264.20" cy="647.70" r="1.05" fill="#f4f4f4"/>
<circle cx="268.00" cy="647.70" r="1.05" fill="#f4f4f4"/>
<circle cx="262.30" cy="649.70" r="1.05" fill="#f4f4f4"/>
<circle cx="266.10" cy="649.70" r="1.05" fill="#f4f4f4"/>
<circle cx="264.20" cy="651.70" r="1.05" fill="#f4f4f4"/>
<circle cx="268.00" cy="651.70" r="1.05" fill="#f4f4f4"/>
<circle cx="262.30" cy="653.70" r="1.05" fill="#f4f4f4"/>
<circle cx="266.10" cy="653.70" r="1.05" fill="#f4f4f4"/>
<circle cx="264.20" cy="655.70" r="1.05" fill="#f4f4f4"/>
<circle cx="268.00" cy="655.70" r="1.05" fill="#f4f4f4"/>
<circle cx="262.30" cy="657.70" r="1.05" fill="#f4f4f4"/>
<circle cx="266.10" cy="657.70" r="1.05" fill="#f4f4f4"/>
<circle cx="264.20" cy="659.70" r="1.05" fill="#f4f4f4"/>
<circle cx="268.00" cy="659.70" r="1.05" fill="#f4f4f4"/>
<circle cx="262.30" cy="661.70" r="1.05" fill="#f4f4f4"/>
<circle cx="266.10" cy="661.70" r="1.05" fill="#f4f4f4"/>
<circle cx="264.20" cy="663.70" r="1.05" fill="#f4f4f4"/>
<circle cx="268.00" cy="663.70" r="1.05" fill="#f4f4f4"/>
<path d="M241,638.3 L259.3,647.5 L277.2,638.3 L277.2,636 L259.3,645 L241,636 Z" stroke="#000" stroke-width="0.1" fill="#fff" stroke-linejoin="round" />
<path d="M241.00,638.30 L259.30,647.50 L277.20,638.30" stroke="#000" stroke-width="1.4" fill="none" stroke-linejoin="round" />
<line x1="259.10" y1="630.00" x2="259.10" y2="647.50" stroke="#000" stroke-width="1.4" />
<rect x="259.4" y="676.5" width="5.8" height="4.2" rx="1" fill="#fff" stroke="#000" stroke-width="1.5"/>
<line x1="259.50" y1="680.00" x2="259.50" y2="689.00" stroke="#444" stroke-width="1.1" />
<line x1="262.30" y1="680.00" x2="262.30" y2="689.00" stroke="#444" stroke-width="1.1" />
<path d="M326.4,554.3 Q327.5,551.5 329.6,551.6 Q333.2,552 332.9,555 Q332.5,558 329.5,559.3 Q327.5,559.8 326.8,558" stroke="#000" stroke-width="1.5" fill="#fff" stroke-linejoin="round" />
<path d="M318.5,554.2 Q323,553.8 325.8,554.8 Q328.4,557 328.5,562.5 Q328,566.5 325.5,568.5 L321,571" stroke="#000" stroke-width="1.5" fill="#fff" stroke-linejoin="round" />
<path d="M307.5,558.7 Q310,555.5 315.3,554.3 Q319.5,553.5 321.5,555.5 Q324.6,559 324.5,564.5 Q324,569 320.5,571.5 L315,573.5 L309.5,577.5 Z" stroke="#000" stroke-width="1.6" fill="#fff" stroke-linejoin="round" />
<path d="M294.2,572.3 L296.5,565.2 L299.7,563.2 L303,560 L307.5,558.7 L310.8,560.6 L314,564.5 L315,569.7 L313.4,574.3 L309.5,577.5 L304.3,580.1 L299.7,580.1 L299,577.5 L295.8,575.6 Z" stroke="#000" stroke-width="1.8" fill="#fff" stroke-linejoin="round" />
<path d="M307.5,558.7 L310.8,560.6 L314,564.5 L315,569.7 L313.4,574.3 L309.5,577.5 L306,579 L308,573 L309,566 Z" stroke="#000" stroke-width="1.2" fill="#111" stroke-linejoin="round" />
<path d="M296.5,565.2 L299.7,563.2 L301,567 L298.5,571 L296,573 Z" stroke="#000" stroke-width="1.0" fill="#111" stroke-linejoin="round" />
<path d="M300,578 L304.3,580.1 L306,576 L302,574 Z" stroke="#000" stroke-width="1.0" fill="#111" stroke-linejoin="round" />
<path d="M301,568 L305,563.5 L307,566 L303,571 Z" stroke="#000" stroke-width="1.0" fill="#333" stroke-linejoin="round" />
<path d="M303,575 L306,570 L307.5,573 Z" stroke="#000" stroke-width="1.0" fill="#222" stroke-linejoin="round" />
<line x1="333.00" y1="553.00" x2="341.00" y2="548.50" stroke="#222" stroke-width="1.1" />
<line x1="373.00" y1="531.50" x2="379.00" y2="528.00" stroke="#222" stroke-width="1.1" />
<line x1="395.00" y1="518.50" x2="400.00" y2="515.50" stroke="#222" stroke-width="1.1" />
<line x1="443.00" y1="489.20" x2="453.00" y2="483.40" stroke="#222" stroke-width="1.1" stroke-dasharray="3,2"/>
<line x1="458.00" y1="480.50" x2="466.00" y2="476.00" stroke="#222" stroke-width="1.1" stroke-dasharray="3,2"/>
<ellipse cx="367.80" cy="534.10" rx="6.20" ry="3.90" stroke="#000" stroke-width="3.4" fill="#222" transform="rotate(62 367.80 534.10)" />
<ellipse cx="368.20" cy="533.80" rx="2.60" ry="0.90" stroke="#fff" stroke-width="0.9" fill="#fff" transform="rotate(62 368.20 533.80)" />
<ellipse cx="387.20" cy="523.50" rx="9.50" ry="7.20" stroke="#000" stroke-width="3.0" fill="#fff" transform="rotate(60 387.20 523.50)" />
<ellipse cx="388.00" cy="523.00" rx="6.30" ry="4.50" stroke="#000" stroke-width="1.3" fill="#fff" transform="rotate(60 388.00 523.00)" />
<path d="M383.5,518 Q381.5,523 385,528.5" stroke="#000" stroke-width="1.0" fill="none" stroke-linejoin="round" />
<line x1="384.50" y1="525.50" x2="390.00" y2="522.30" stroke="#333" stroke-width="1.0" />
<ellipse cx="407.80" cy="511.40" rx="11.00" ry="6.90" stroke="#000" stroke-width="2.9" fill="#fff" transform="rotate(60 407.80 511.40)" />
<ellipse cx="408.60" cy="511.00" rx="8.00" ry="4.60" stroke="#000" stroke-width="1.2" fill="#fff" transform="rotate(60 408.60 511.00)" />
<ellipse cx="409.30" cy="510.70" rx="6.80" ry="3.20" stroke="#000" stroke-width="1.0" fill="none" transform="rotate(60 409.30 510.70)" />
<path d="M405,506 Q403.5,511 406.5,516" stroke="#000" stroke-width="0.9" fill="none" stroke-linejoin="round" />
<g transform="translate(424.4,501.2) rotate(-30)">
<rect x="-6" y="-4" width="12" height="8" rx="1.5" fill="#fff" stroke="#000" stroke-width="1.8"/>
<rect x="-2.5" y="-1.8" width="5" height="3.6" fill="#fff" stroke="#000" stroke-width="1.1"/>
</g>
<line x1="432.80" y1="494.50" x2="440.00" y2="490.30" stroke="#000" stroke-width="2.6" />
<ellipse cx="440.80" cy="489.90" rx="2.20" ry="1.80" stroke="#000" stroke-width="1.2" fill="#000" transform="rotate(-30 440.80 489.90)" />
<ellipse cx="461.60" cy="497.80" rx="2.60" ry="2.60" stroke="#000" stroke-width="1.6" fill="#fff" transform="rotate(0 461.60 497.80)" />
<ellipse cx="467.80" cy="487.20" rx="2.60" ry="4.40" stroke="#000" stroke-width="2.2" fill="#333" transform="rotate(35 467.80 487.20)" />
<line x1="464.80" y1="491.50" x2="463.50" y2="494.50" stroke="#000" stroke-width="1.1" />
<path d="M493.60,435.60 L506.10,450.70 L491.00,472.00 L477.50,486.60 L463.40,467.30 L467.00,459.50 L478.00,455.40 Z" stroke="#000" stroke-width="1.8" fill="#fff" stroke-linejoin="round" />
<path d="M492.00,444.00 L499.80,453.30 L495.10,458.50 L488.40,449.10 Z" stroke="#000" stroke-width="1.5" fill="#fff" stroke-linejoin="round" />
<path d="M493.30,445.80 L498.40,452.60 L494.80,456.30 L489.90,449.60 Z" stroke="#000" stroke-width="0.9" fill="#fff" stroke-linejoin="round" />
<path d="M467.60,460.00 L480.60,478.30 L491.00,472.00" stroke="#000" stroke-width="1.3" fill="none" stroke-linejoin="round" />
<line x1="478.00" y1="455.40" x2="491.00" y2="472.00" stroke="#000" stroke-width="1.3" />
<line x1="465.00" y1="469.00" x2="475.50" y2="483.00" stroke="#000" stroke-width="1.2" />
<ellipse cx="474.30" cy="473.00" rx="2.20" ry="3.60" stroke="#000" stroke-width="1.6" fill="#fff" transform="rotate(-35 474.30 473.00)" />
<line x1="470.00" y1="468.00" x2="476.00" y2="476.00" stroke="#000" stroke-width="0.9" />
<path d="M477.50,452.50 L466.90,446.90 L396.90,487.50 L419.40,499.40" stroke="#000" stroke-width="1.2" fill="none" stroke-linejoin="round" />
<line x1="434.40" y1="452.50" x2="445.60" y2="459.00" stroke="#000" stroke-width="1.2" />
<line x1="411.80" y1="480.50" x2="432.80" y2="491.30" stroke="#000" stroke-width="1.2" />
<line x1="421.30" y1="474.30" x2="459.40" y2="495.60" stroke="#000" stroke-width="1.2" />
<line x1="431.90" y1="468.00" x2="466.30" y2="486.00" stroke="#000" stroke-width="1.2" />
<path d="M430.40,439.00 L430.40,454.00 L428.45,454.00 L428.45,442.75 Q427.70,443.05 425.00,443.12 L425.00,441.77 Q427.25,441.55 428.15,439.00 Z" fill="#111"/>
<path d="M326.25,573.10 L345.60,583.75 L468.75,512.50 L441.00,497.50" stroke="#000" stroke-width="1.2" fill="none" stroke-linejoin="round" />
<line x1="376.25" y1="541.90" x2="396.30" y2="553.00" stroke="#000" stroke-width="1.2" />
<line x1="428.80" y1="506.30" x2="453.80" y2="519.40" stroke="#000" stroke-width="1.2" />
<line x1="415.00" y1="545.00" x2="422.50" y2="549.50" stroke="#000" stroke-width="1.2" />
<text x="423.48" y="563.5" font-size="21.0" text-anchor="start" fill="#111" >4</text>
<line x1="373.80" y1="487.50" x2="397.50" y2="501.30" stroke="#000" stroke-width="1.2" />
<text x="359.85" y="489.1" font-size="21.0" text-anchor="start" fill="#111" >2</text>
<line x1="352.50" y1="500.00" x2="377.50" y2="514.50" stroke="#000" stroke-width="1.2" />
<text x="338.95" y="503.2" font-size="21.0" text-anchor="start" fill="#111" >3</text>
<ellipse cx="259.30" cy="699.10" rx="14.20" ry="8.40" stroke="#000" stroke-width="3.0" fill="#fff" transform="rotate(0 259.30 699.10)" />
<ellipse cx="259.30" cy="699.60" rx="10.80" ry="5.60" stroke="#000" stroke-width="1.2" fill="none" transform="rotate(0 259.30 699.60)" />
<path d="M252.5,696 L252.5,704 L266,704 L266,696 L262,696 L262,694 L256.5,694 L256.5,696 Z" fill="#fff" stroke="#000" stroke-width="1.2"/>
<line x1="259.50" y1="708.00" x2="259.50" y2="782.00" stroke="#333" stroke-width="1.1" stroke-dasharray="7,4"/>
<line x1="262.40" y1="708.00" x2="262.40" y2="822.00" stroke="#333" stroke-width="1.1" />
<path d="M239.9,741.3 C240,733 241,726 244,722 C250,716 258,715 265.3,715.1 L279.8,719.6 L280.7,725.1 L266.9,733 L265.3,727.1 C262,725.5 257,725 253,726.5 C249,728.5 249,733 251.6,735.5 L251.6,741.3 L240.3,748 Z" stroke="#000" stroke-width="1.2" fill="#fff" stroke-linejoin="round" />
<path d="M265.3,727.1 L279.8,719.6" stroke="#000" stroke-width="1.2" fill="none" stroke-linejoin="round" />
<path d="M266.4,730.3 L279.8,722.6" stroke="#000" stroke-width="0.9" fill="none" stroke-linejoin="round" />
<path d="M240,741.3 L251.6,735.5" stroke="#000" stroke-width="1.2" fill="none" stroke-linejoin="round" />
<path d="M240,744.8 L251.2,738.5" stroke="#000" stroke-width="0.9" fill="none" stroke-linejoin="round" />
<line x1="259.50" y1="722.00" x2="259.50" y2="735.00" stroke="#333" stroke-width="1.1" />
<line x1="262.40" y1="722.00" x2="262.40" y2="735.00" stroke="#333" stroke-width="1.1" />
<path d="M239.90,755.40 L248.20,751.30 L278.20,753.80 L281.50,763.30 L272.80,771.50 L262.00,776.50 L246.10,774.60 Z" stroke="#000" stroke-width="1.6" fill="#fff" stroke-linejoin="round" />
<path d="M242.80,756.60 L249.00,753.60 L276.00,755.80 L279.00,763.00 L271.50,770.00 L261.50,774.00 L247.60,772.30 Z" stroke="#000" stroke-width="1.0" fill="none" stroke-linejoin="round" />
<path d="M246.1,774.6 L247,777.6 L262,779.5 L272.5,775 L272.8,771.5" stroke="#000" stroke-width="1.4" fill="#fff" stroke-linejoin="round" />
<ellipse cx="259.90" cy="762.40" rx="12.60" ry="7.60" stroke="#000" stroke-width="1.3" fill="#fff" transform="rotate(0 259.90 762.40)" />
<ellipse cx="259.90" cy="762.60" rx="10.60" ry="5.60" stroke="#000" stroke-width="1.2" fill="none" transform="rotate(0 259.90 762.60)" />
<line x1="259.50" y1="755.00" x2="259.50" y2="770.00" stroke="#333" stroke-width="1.0" />
<line x1="262.40" y1="755.00" x2="262.40" y2="770.00" stroke="#333" stroke-width="1.0" />
<path d="M241.2,795.7 Q247,791 252,790.5 Q258,789.5 262,789.8 Q270,791.5 273.8,797 Q275.5,802 272.8,804.5 Q268,808.5 262.8,810.7 L259.5,808.6 L259.5,806.1 Q266,804 268.5,800.5 Q269,796 263,795 Q256,794.5 252.5,796.5 Q248,800 243,800 Q240.5,799 241.2,795.7 Z" stroke="#000" stroke-width="1.7" fill="#fff" stroke-linejoin="round" />
<path d="M260,808 L272.5,802" stroke="#000" stroke-width="1.0" fill="none" stroke-linejoin="round" />
<ellipse cx="262.30" cy="799.60" rx="3.20" ry="3.60" stroke="#000" stroke-width="1.8" fill="#fff" transform="rotate(0 262.30 799.60)" />
<ellipse cx="262.30" cy="799.60" rx="1.40" ry="1.20" stroke="#000" stroke-width="1.0" fill="#000" transform="rotate(0 262.30 799.60)" />
<path d="M258.2,826 L258.2,851 Q262.4,853 266.5,851 L266.5,826" stroke="#000" stroke-width="1.6" fill="#fff" stroke-linejoin="round" />
<ellipse cx="262.40" cy="823.80" rx="4.70" ry="2.60" stroke="#000" stroke-width="1.4" fill="#000" transform="rotate(0 262.40 823.80)" />
<path d="M258.6,828 Q262.4,830 266.1,828" stroke="#000" stroke-width="1.0" fill="none" stroke-linejoin="round" />
<path d="M258.2,843 Q262.4,845 266.5,843" stroke="#000" stroke-width="1.3" fill="none" stroke-linejoin="round" />
<line x1="262.40" y1="845.00" x2="262.40" y2="851.00" stroke="#000" stroke-width="0.9" />
<path d="M242.50,698.80 L224.30,698.80 L224.30,843.20 L256.10,843.20" stroke="#333" stroke-width="1.3" fill="none" stroke-linejoin="round" />
<line x1="224.30" y1="795.30" x2="240.50" y2="795.30" stroke="#333" stroke-width="1.3" />
<line x1="213.50" y1="780.00" x2="224.30" y2="780.00" stroke="#333" stroke-width="1.3" />
<text x="201.95" y="787.8" font-size="21.0" text-anchor="start" fill="#111" >9</text>
<line x1="270.30" y1="843.60" x2="283.60" y2="843.60" stroke="#333" stroke-width="1.3" />
<text x="285.3" y="847.3" font-size="10.2" text-anchor="start" fill="#111" >13mm</text>
<line x1="255.00" y1="854.00" x2="255.00" y2="858.70" stroke="#555" stroke-width="1.1" />
<rect x="251.3" y="858.7" width="7.5" height="23.799999999999955" fill="#111" stroke="#000" stroke-width="1.2"/>
<circle cx="253.10" cy="860.70" r="0.8" fill="#eee"/>
<circle cx="256.90" cy="860.70" r="0.8" fill="#eee"/>
<circle cx="255.00" cy="862.90" r="0.8" fill="#eee"/>
<circle cx="253.10" cy="865.10" r="0.8" fill="#eee"/>
<circle cx="256.90" cy="865.10" r="0.8" fill="#eee"/>
<circle cx="255.00" cy="867.30" r="0.8" fill="#eee"/>
<circle cx="253.10" cy="869.50" r="0.8" fill="#eee"/>
<circle cx="256.90" cy="869.50" r="0.8" fill="#eee"/>
<circle cx="255.00" cy="871.70" r="0.8" fill="#eee"/>
<circle cx="253.10" cy="873.90" r="0.8" fill="#eee"/>
<circle cx="256.90" cy="873.90" r="0.8" fill="#eee"/>
<circle cx="255.00" cy="876.10" r="0.8" fill="#eee"/>
<circle cx="253.10" cy="878.30" r="0.8" fill="#eee"/>
<circle cx="256.90" cy="878.30" r="0.8" fill="#eee"/>
<circle cx="255.00" cy="880.50" r="0.8" fill="#eee"/>
<rect x="251.3" y="882.5" width="7.5" height="6.0" fill="#fff" stroke="#000" stroke-width="1.5"/>
<path d="M252.3,884.0 Q255.05,886.0 257.8,884.0" stroke="#000" stroke-width="1.0" fill="none" stroke-linejoin="round" />
<line x1="253.80" y1="885.50" x2="253.80" y2="887.50" stroke="#000" stroke-width="1.0" />
<line x1="256.30" y1="885.50" x2="256.30" y2="887.50" stroke="#000" stroke-width="1.0" />
<rect x="248.5" y="887.5" width="11.5" height="10.5" rx="2.5" fill="#fff" stroke="#000" stroke-width="2.2"/>
<path d="M249.5,890.5 Q254.25,893.0 259,890.5" stroke="#000" stroke-width="1.6" fill="none" stroke-linejoin="round" />
<line x1="251.50" y1="892.00" x2="251.50" y2="897.00" stroke="#000" stroke-width="0.9" />
<line x1="257.00" y1="892.00" x2="257.00" y2="897.00" stroke="#000" stroke-width="0.9" />
<line x1="265.00" y1="860.00" x2="265.00" y2="864.00" stroke="#555" stroke-width="1.1" />
<rect x="261.3" y="864" width="7.800000000000011" height="22.200000000000045" fill="#111" stroke="#000" stroke-width="1.2"/>
<circle cx="263.10" cy="866.00" r="0.8" fill="#eee"/>
<circle cx="266.90" cy="866.00" r="0.8" fill="#eee"/>
<circle cx="265.00" cy="868.20" r="0.8" fill="#eee"/>
<circle cx="263.10" cy="870.40" r="0.8" fill="#eee"/>
<circle cx="266.90" cy="870.40" r="0.8" fill="#eee"/>
<circle cx="265.00" cy="872.60" r="0.8" fill="#eee"/>
<circle cx="263.10" cy="874.80" r="0.8" fill="#eee"/>
<circle cx="266.90" cy="874.80" r="0.8" fill="#eee"/>
<circle cx="265.00" cy="877.00" r="0.8" fill="#eee"/>
<circle cx="263.10" cy="879.20" r="0.8" fill="#eee"/>
<circle cx="266.90" cy="879.20" r="0.8" fill="#eee"/>
<circle cx="265.00" cy="881.40" r="0.8" fill="#eee"/>
<circle cx="263.10" cy="883.60" r="0.8" fill="#eee"/>
<circle cx="266.90" cy="883.60" r="0.8" fill="#eee"/>
<rect x="261.3" y="886.2" width="7.800000000000011" height="7.7999999999999545" fill="#fff" stroke="#000" stroke-width="1.5"/>
<path d="M262.3,887.7 Q265.20000000000005,889.7 268.1,887.7" stroke="#000" stroke-width="1.0" fill="none" stroke-linejoin="round" />
<line x1="263.80" y1="889.20" x2="263.80" y2="893.00" stroke="#000" stroke-width="1.0" />
<line x1="266.60" y1="889.20" x2="266.60" y2="893.00" stroke="#000" stroke-width="1.0" />
<rect x="258.5" y="893" width="13.399999999999977" height="11" rx="2.5" fill="#fff" stroke="#000" stroke-width="2.2"/>
<path d="M259.5,896 Q265.2,898.5 270.9,896" stroke="#000" stroke-width="1.6" fill="none" stroke-linejoin="round" />
<line x1="261.50" y1="897.50" x2="261.50" y2="903.00" stroke="#000" stroke-width="0.9" />
<line x1="268.90" y1="897.50" x2="268.90" y2="903.00" stroke="#000" stroke-width="0.9" />
<rect x="322.2" y="701" width="109.9" height="103.5" fill="none" stroke="#000" stroke-width="1.4"/>
<line x1="381.90" y1="701.00" x2="381.90" y2="804.50" stroke="#000" stroke-width="1.3" />
<path d="M348.23,705.60 L348.23,720.40 L346.30,720.40 L346.30,709.30 Q345.56,709.60 342.90,709.67 L342.90,708.34 Q345.12,708.12 346.01,705.60 Z" fill="#111"/>
<text x="351.95" y="720.4" font-size="21.0" text-anchor="start" fill="#111" >0</text>
<line x1="327.40" y1="722.50" x2="377.30" y2="722.50" stroke="#000" stroke-width="1.1" />
<g stroke="#9a9a9a" fill="#fff" stroke-width="1.2">
<path d="M337,791.4 L368.3,773.7 L369.5,775.8 L338.2,793.5 Z"/>
<path d="M348.5,734 L348.5,788 Q352.75,790.5 357,788 L357,734"/>
<ellipse cx="352.75" cy="734" rx="4.25" ry="1.8"/>
</g>
<line x1="348.50" y1="764.00" x2="357.00" y2="764.00" stroke="#fff" stroke-width="1.4" />
<line x1="352.75" y1="740.00" x2="352.75" y2="760.00" stroke="#9a9a9a" stroke-width="0.8" />
<text x="390.6" y="739.5" font-size="10.2" text-anchor="start" fill="#111" >13mm</text>
<path d="M402.3,749 L402.3,774.5 Q407.2,777 412.1,774.5 L412.1,749" stroke="#000" stroke-width="1.5" fill="#fff" stroke-linejoin="round" />
<ellipse cx="407.20" cy="748.20" rx="5.00" ry="2.80" stroke="#000" stroke-width="1.3" fill="#000" transform="rotate(0 407.20 748.20)" />
<path d="M402.5,752 Q407.2,754 412,752" stroke="#000" stroke-width="1.0" fill="none" stroke-linejoin="round" />
<path d="M402.3,768 Q407.2,770 412.1,768" stroke="#000" stroke-width="1.2" fill="none" stroke-linejoin="round" />
<line x1="407.20" y1="770.00" x2="407.20" y2="775.50" stroke="#000" stroke-width="0.9" />
</svg>
</body></html>
